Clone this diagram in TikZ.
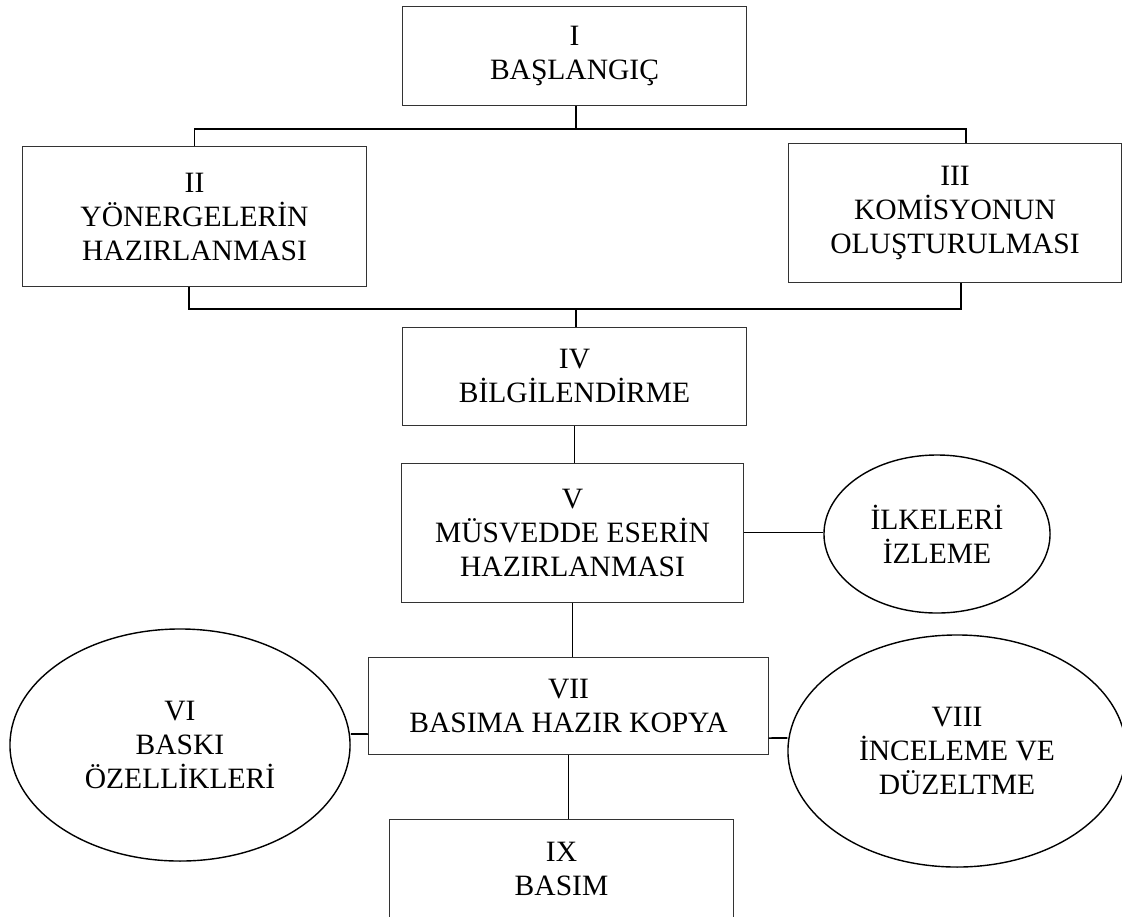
\documentclass[tikz,border=0pt]{standalone}
\usepackage{fontspec}
\setmainfont{Liberation Serif}
\usetikzlibrary{shapes}

\newcommand\yazi{\fontsize{21}{24.2}\selectfont}

\begin{document}
\begin{tikzpicture}[x=0.025cm, y=-0.025cm,
    kutu/.style={draw=black!80, line width=0.7pt, rectangle, align=center, inner sep=0pt, font=\yazi},
    elips/.style={draw, line width=1pt, ellipse, align=center, inner sep=0pt, font=\yazi},
    hat/.style={line width=1.1pt},
    kol/.style={line width=1.4pt}]
    \useasboundingbox (0,0) rectangle (1122,916);

    \node[kutu, minimum width=8.575cm, minimum height=2.45cm] (baslangic) at (574.5,56) {I\\BAŞLANGIÇ};
    \node[kutu, minimum width=8.575cm, minimum height=3.475cm] (yonerge) at (194.5,216.5) {II\\YÖNERGELERİN\\HAZIRLANMASI};
    \node[kutu, minimum width=8.3cm, minimum height=3.45cm] (komisyon) at (955,213) {III\\KOMİSYONUN\\OLUŞTURULMASI};
    \node[kutu, minimum width=8.575cm, minimum height=2.45cm] (bilgi) at (574.5,376) {IV\\BİLGİLENDİRME};
    \node[kutu, minimum width=8.525cm, minimum height=3.475cm] (musvedde) at (572.5,532.5) {V\\MÜSVEDDE ESERİN\\HAZIRLANMASI};
    \node[kutu, minimum width=9.975cm, minimum height=2.425cm] (kopya) at (568.5,705.5) {VII\\BASIMA HAZIR KOPYA};
    \node[kutu, minimum width=8.575cm, minimum height=2.475cm] (basim) at (561.5,868.5) {IX\\BASIM};

    \node[elips, minimum width=5.65cm, minimum height=3.95cm] (ilke) at (937,534) {İLKELERİ\\İZLEME};
    \node[elips, minimum width=8.5cm, minimum height=5.8cm] (baski) at (180,745) {VI\\BASKI\\ÖZELLİKLERİ};
    \node[elips, minimum width=8.45cm, minimum height=5.8cm] (inceleme) at (957,751) {VIII\\İNCELEME VE\\DÜZELTME};

    \coordinate (ust) at (576,129);
    \coordinate (alt) at (576,309);

    \draw[kol] (ust) -- (ust |- baslangic.south);
    \draw[kol] (yonerge.north) -- (yonerge.north |- ust) -- ([xshift=0.275cm]komisyon.north |- ust) -- ([xshift=0.275cm]komisyon.north);
    \draw[kol] ([xshift=-0.1375cm]yonerge.south) -- ([xshift=-0.1375cm]yonerge.south |- alt) -- ([xshift=0.15cm]komisyon.south |- alt) -- ([xshift=0.15cm]komisyon.south);
    \draw[kol] (alt) -- (alt |- bilgi.north);

    \draw[hat] (bilgi.south) -- (bilgi.south |- musvedde.north);
    \draw[hat] (musvedde.east) -- (musvedde.east -| ilke.west);
    \draw[hat] (musvedde.south) -- (musvedde.south |- kopya.north);
    \draw[hat] ([yshift=-0.7125cm]kopya.west) -- ([yshift=0.275cm]baski.east);
    \draw[hat] ([yshift=-0.8125cm]kopya.east) -- ([yshift=0.325cm]inceleme.west);
    \draw[hat] (kopya.south) -- (kopya.south |- basim.north);
\end{tikzpicture}
\end{document}
